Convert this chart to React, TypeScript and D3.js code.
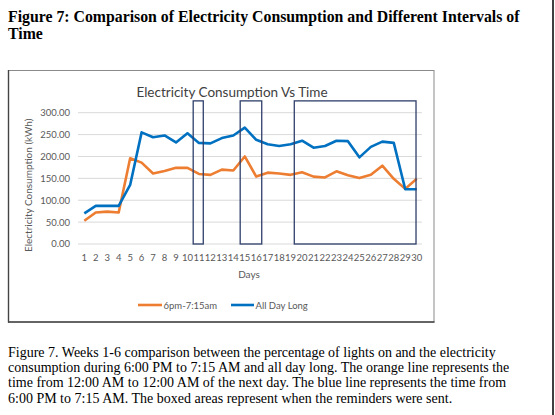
import React from 'react';
import * as d3 from 'd3';

// Days 1..30
const days = d3.range(1, 31);

// All Day Long (kWh)
const allDay = [
  70, 87, 87, 87, 135, 255, 244, 248, 232, 253,
  231, 230, 242, 248, 266, 238, 228, 224, 228, 236,
  220, 224, 236, 235, 198, 222, 234, 231, 125, 125,
];

// 6pm-7:15am (kWh)
const night = [
  53, 72, 74, 72, 196, 186, 161, 167, 174, 174,
  160, 158, 170, 168, 200, 154, 163, 161, 158, 164,
  154, 152, 166, 157, 151, 158, 179, 149, 126, 149,
];

const yTicks = [0, 50, 100, 150, 200, 250, 300];

// reminder windows, in day units
const reminderBoxes = [
  [10.5, 11.38],
  [14.6, 16.48],
  [19.32, 29.94],
];
const boxTop = 327;

const titleLines = [
  'Figure 7: Comparison of Electricity Consumption and Different Intervals of',
  'Time',
];

const captionLines = [
  'Figure 7. Weeks 1-6 comparison between the percentage of lights on and the electricity',
  'consumption during 6:00 PM to 7:15 AM and all day long. The orange line represents the',
  'time from 12:00 AM to 12:00 AM of the next day. The blue line represents the time from',
  '6:00 PM to 7:15 AM. The boxed areas represent when the reminders were sent.',
];

const BLUE = '#0070C0';
const ORANGE = '#ED7D31';
const chartFont = 'Lato, "Open Sans", sans-serif';

export default function App() {
  const x = d3.scaleLinear().domain([1, 30]).range([84.3, 416.7]);
  const y = d3.scaleLinear().domain([0, 300]).range([244, 112.7]);

  const line = d3
    .line<number>()
    .x((_, i) => x(days[i]))
    .y((d) => y(d));

  return (
    <svg
      width={555}
      height={415}
      style={{ position: 'absolute', left: 0, top: 0, background: '#fff' }}
    >
      {/* page heading */}
      <g fontFamily='"Liberation Serif", "Times New Roman", serif' fontWeight="bold" fontSize={15.8}>
        {titleLines.map((t, i) => (
          <text key={i} x={8} y={22 + i * 17}>
            {t}
          </text>
        ))}
      </g>

      {/* chart frame */}
      <rect x={8.5} y={70.5} width={425.5} height={251.5} fill="#fff" stroke="#8a8a8a" strokeWidth={1} />
      <line x1={8.5} x2={8.5} y1={70} y2={322.5} stroke="#444" strokeWidth={1.4} />
      <line x1={8} x2={434.5} y1={322} y2={322} stroke="#444" strokeWidth={1.4} />

      <text x={232} y={96.5} textAnchor="middle" fontFamily={chartFont} fontSize={13.5} fill="#404040">
        Electricity Consumption Vs Time
      </text>

      {/* gridlines + y ticks */}
      <g fontFamily={chartFont} fontSize={9.5} fill="#595959">
        {yTicks.map((t) => (
          <g key={t}>
            <line x1={78} x2={422} y1={y(t)} y2={y(t)} stroke="#D9D9D9" strokeWidth={1} />
            <text x={70} y={y(t) + 3.4} textAnchor="end">
              {t.toFixed(2)}
            </text>
          </g>
        ))}
        {days.map((d) => (
          <text key={d} x={x(d)} y={260.5} textAnchor="middle">
            {d}
          </text>
        ))}
      </g>

      <text x={249} y={277.5} textAnchor="middle" fontFamily={chartFont} fontSize={10} fill="#595959">
        Days
      </text>
      <text
        transform={`translate(32,${(y(0) + y(300)) / 2 + 7}) rotate(-90)`}
        textAnchor="middle"
        fontFamily={chartFont}
        fontSize={10}
        fill="#595959"
      >
        Electricity Consumption (kWh)
      </text>

      {/* series */}
      <path d={line(night) || ''} fill="none" stroke={ORANGE} strokeWidth={2.6} strokeLinejoin="round" />
      <path d={line(allDay) || ''} fill="none" stroke={BLUE} strokeWidth={2.6} strokeLinejoin="round" />

      {/* reminder boxes */}
      {reminderBoxes.map(([a, b], i) => (
        <rect
          key={i}
          x={x(a)}
          y={y(boxTop)}
          width={x(b) - x(a)}
          height={y(0) - y(boxTop)}
          fill="none"
          stroke="#2F3F6B"
          strokeWidth={1.3}
        />
      ))}

      {/* legend */}
      <g fontFamily={chartFont} fontSize={9.5} fill="#595959">
        <line x1={138} x2={162} y1={305} y2={305} stroke={ORANGE} strokeWidth={2.6} />
        <text x={163.5} y={308.5}>6pm-7:15am</text>
        <line x1={231} x2={254} y1={305} y2={305} stroke={BLUE} strokeWidth={2.6} />
        <text x={255.5} y={308.5}>All Day Long</text>
      </g>

      {/* caption */}
      <g fontFamily='"Liberation Serif", "Times New Roman", serif' fontSize={14}>
        {captionLines.map((t, i) => (
          <text key={i} x={8} y={357 + i * 15.2}>
            {t}
          </text>
        ))}
      </g>

      <line x1={553} x2={553} y1={0} y2={415} stroke="#000" strokeWidth={1.5} />
    </svg>
  );
}
